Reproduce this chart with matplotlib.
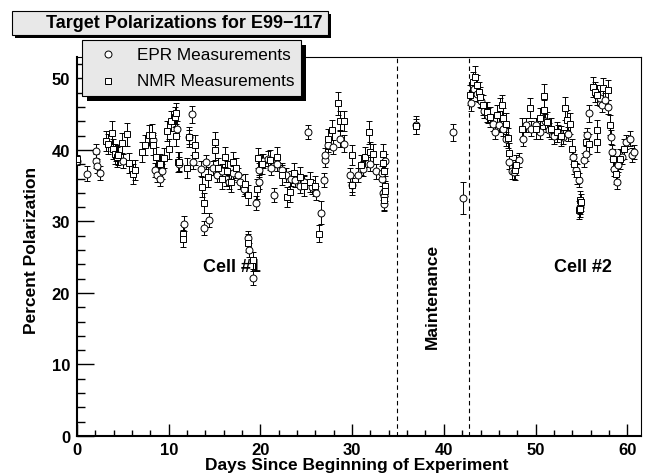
import numpy as np
import matplotlib.pyplot as plt
from matplotlib.patches import Rectangle
from matplotlib.lines import Line2D

plt.rcParams['font.family'] = ['Liberation Sans', 'DejaVu Sans']

# EPR measurements (circles)
epr_day = [0.0, 1.1, 2.1, 2.1, 2.2, 2.5, 4.3, 5.0, 8.3, 8.5, 8.75, 9.0, 9.3,
           10.9, 11.1, 11.7, 12.2, 12.5, 12.6, 13.5, 13.8, 14.1, 14.4, 14.8,
           15.3, 15.8, 16.2, 16.6, 17.0, 17.6, 17.8, 18.2, 18.7, 18.8, 19.2,
           19.5, 19.8, 19.8, 20.3, 20.8, 21.2, 21.5, 21.8, 22.3, 22.8, 23.3,
           23.8, 24.3, 24.8, 25.2, 25.6, 26.1, 26.6, 26.9, 27.0, 27.0, 27.4,
           27.95, 28.7, 29.1, 29.8, 29.95, 30.6, 31.2, 32.0, 32.6, 33.3, 33.4,
           33.5, 33.6, 33.3, 33.5,
           37.0, 41.0, 42.1,
           43.0, 43.3, 43.6, 44.0, 44.4, 44.8, 45.4, 45.6, 46.0, 46.5, 46.8,
           47.1, 47.4, 47.7, 48.2, 48.6, 49.0, 49.5, 50.1, 50.5, 51.0, 51.5,
           52.0, 52.5, 53.0, 53.5, 54.1, 54.4, 54.7, 54.9, 55.3, 55.5, 55.65,
           55.8, 57.0, 57.2, 57.6, 57.9, 58.2, 58.3, 58.6, 58.85, 59.0, 59.4,
           59.9, 60.3, 60.5, 60.7]
epr_pol = [38.5, 36.7, 39.9, 38.5, 37.8, 36.8, 39.5, 38.5, 41.4, 37.2, 36.5, 36.0, 37.0,
           43.0, 38.0, 29.7, 41.8, 45.0, 38.3, 37.4, 29.1, 38.3, 30.2, 37.5,
           36.5, 37.0, 36.0, 35.5, 36.8, 36.5, 35.5, 34.5, 27.7, 26.0, 22.1,
           32.6, 35.5, 37.2, 38.5, 38.8, 37.5, 33.7, 38.0, 37.2, 36.5, 36.0,
           35.8, 35.0, 35.5, 42.5, 34.8, 34.0, 31.2, 35.8, 38.6, 39.3, 40.7,
           40.4, 41.6, 40.9, 36.5, 35.1, 36.5, 37.4, 38.0, 37.0, 36.0, 34.0,
           32.5, 38.5, 36.8, 33.5,
           43.5, 42.5, 33.3,
           46.5, 48.5, 47.8, 46.8, 45.5, 44.8, 43.7, 42.5, 43.5, 43.0, 41.5,
           38.3, 37.0, 36.9, 38.6, 41.5, 43.5, 43.0, 43.5, 42.5, 44.0, 42.8,
           41.9, 42.5, 41.8, 42.2, 39.0, 37.2, 35.8, 32.0, 38.6, 39.5, 42.1,
           45.1, 47.2, 46.3, 47.0, 46.0, 41.8, 39.7, 37.4, 35.5, 37.9, 39.0,
           41.1, 41.6, 39.3, 39.7]
epr_err = [0.6, 1.0, 1.0, 1.0, 1.0, 1.0, 1.0, 1.0, 1.0, 1.0, 1.0, 1.0, 1.0,
           1.0, 1.0, 1.0, 1.0, 1.2, 1.0, 1.0, 1.0, 1.0, 1.0, 1.0,
           1.0, 1.0, 1.0, 1.0, 1.0, 1.0, 1.0, 1.0, 1.0, 1.0, 1.0,
           1.0, 1.0, 1.0, 1.0, 1.0, 1.0, 1.0, 1.0, 1.0, 1.0, 1.0,
           1.0, 1.0, 1.0, 1.0, 1.0, 1.0, 1.6, 1.0, 1.0, 1.0, 1.0,
           1.0, 1.2, 1.2, 1.0, 1.0, 1.0, 1.0, 1.0, 1.0, 1.0, 1.0,
           1.0, 1.0, 1.0, 1.0,
           1.3, 1.2, 2.2,
           1.0, 1.0, 1.0, 1.0, 1.0, 1.0, 1.0, 1.0, 1.0, 1.0, 1.0,
           1.0, 1.0, 1.0, 1.0, 1.0, 1.0, 1.0, 1.0, 1.0, 1.0, 1.0,
           1.0, 1.0, 1.0, 1.0, 1.0, 1.0, 1.0, 1.0, 1.0, 1.0, 1.0,
           1.2, 1.0, 1.0, 1.0, 1.0, 1.0, 1.0, 1.0, 1.0, 1.0, 1.0,
           1.0, 1.0, 1.0, 1.0]

# NMR measurements (squares)
nmr_day = [0.0, 3.16, 3.4, 3.78, 3.96, 4.14, 4.33, 4.5, 4.87, 5.5, 5.7, 6.07,
           6.3, 7.05, 7.4, 7.8, 8.15, 8.3, 8.6, 9.05, 9.5, 9.85, 10.07, 10.3,
           10.7, 10.75, 10.8, 11.05, 11.15, 11.6, 11.6, 12.0, 12.25, 12.9,
           12.9, 13.6, 13.9, 14.3, 15.05, 15.05, 15.4, 15.8, 16.1, 16.4, 16.8,
           17.0, 17.3, 18.3, 18.7, 18.6, 19.2, 19.6, 19.7, 20.2, 21.0, 21.8,
           22.3, 22.9, 23.2, 23.7, 24.3, 24.8, 25.4, 26.0, 26.4, 27.4, 27.8,
           28.5, 28.7, 29.1, 29.95, 30.0, 31.0, 31.4, 31.8, 31.95, 32.3, 33.4,
           33.5, 33.6, 33.5, 33.4, 33.6,
           37.0,
           42.9, 43.2, 43.4, 43.6, 43.8, 43.95, 44.3, 44.7, 45.0, 45.8, 46.1,
           46.3, 46.5, 46.8, 47.0, 47.1, 47.8, 47.9, 48.5, 49.4, 50.1, 50.5,
           50.9, 50.9, 51.2, 51.7, 52.3, 52.8, 53.2, 53.4, 53.8, 54.0, 54.2,
           54.5, 54.7, 54.8, 54.85, 55.0, 55.5, 55.8, 56.3, 56.5, 56.7, 56.7,
           56.7, 57.4, 57.9, 58.1, 58.5, 58.8, 59.2, 59.6]
nmr_pol = [38.7, 41.3, 40.9, 42.4, 40.2, 39.5, 39.0, 39.3, 41.0, 42.2, 38.2, 36.7,
           37.2, 39.7, 40.7, 42.1, 42.1, 40.7, 39.0, 38.1, 38.9, 42.7, 40.2, 44.1,
           44.6, 45.1, 42.0, 38.3, 38.3, 28.3, 27.6, 37.5, 41.8, 40.7,
           39.3, 34.8, 32.6, 36.2, 41.1, 40.0, 37.5, 36.0, 39.0, 37.0, 35.5,
           38.3, 37.5, 35.2, 33.7, 27.0, 24.6, 34.6, 38.9, 38.0, 38.6, 39.0,
           36.5, 33.4, 34.1, 36.8, 36.2, 35.0, 35.5, 35.0, 28.3, 41.6, 42.8,
           46.5, 44.0, 44.0, 39.3, 35.1, 37.9, 39.0, 42.5, 39.7, 39.5, 39.5,
           37.0, 35.0, 33.0, 38.2, 34.2,
           43.3,
           47.7, 49.5, 50.2, 49.1, 48.1, 47.4, 46.3, 45.3, 44.6, 44.9, 45.8,
           46.3, 44.4, 43.7, 41.7, 39.6, 37.2, 37.9, 43.0, 45.9, 43.0, 44.4,
           47.6, 45.6, 43.9, 43.0, 42.5, 42.0, 45.8, 44.2, 43.7, 40.2, 38.1,
           36.7, 31.6, 33.0, 31.8, 32.7, 41.1, 40.9, 48.8, 48.1, 47.7, 42.8,
           41.1, 48.6, 48.4, 43.5, 38.8, 36.7, 38.8, 40.2]
nmr_err = [0.6, 1.4, 1.4, 1.6, 1.4, 1.4, 1.4, 1.4, 1.4, 1.6, 1.4, 1.4,
           1.4, 1.4, 1.4, 1.4, 1.6, 1.4, 1.4, 1.4, 1.4, 1.4, 1.4, 1.4,
           1.4, 1.4, 1.4, 1.4, 1.4, 1.2, 1.2, 1.4, 1.4, 1.4,
           1.4, 1.4, 1.4, 1.4, 1.4, 1.4, 1.4, 1.4, 1.4, 1.4, 1.4,
           1.4, 1.4, 1.4, 1.4, 1.2, 1.2, 1.4, 1.4, 1.4, 1.4, 1.4,
           1.4, 1.4, 1.4, 1.4, 1.4, 1.4, 1.4, 1.4, 1.2, 1.4, 1.4,
           1.6, 1.4, 1.4, 1.4, 1.4, 1.4, 1.4, 1.6, 1.4, 1.4, 1.4,
           1.4, 1.4, 1.4, 1.4, 1.4,
           1.0,
           1.4, 1.4, 1.6, 1.4, 1.4, 1.4, 1.4, 1.4, 1.4, 1.4, 1.4,
           1.4, 1.4, 1.4, 1.4, 1.4, 1.4, 1.4, 1.4, 1.4, 1.4, 1.4,
           1.6, 1.4, 1.4, 1.4, 1.4, 1.4, 1.6, 1.4, 1.4, 1.4, 1.4,
           1.4, 1.2, 1.2, 1.2, 1.2, 1.4, 1.4, 1.4, 1.4, 1.4, 1.4,
           1.4, 1.4, 1.4, 1.4, 1.4, 1.4, 1.4, 1.4]

maint_start = 34.9
maint_end = 42.7

W, H = 647, 477
fig = plt.figure(figsize=(W / 100, H / 100), dpi=100)

def fx(px):
    return px / W

def fy(py):
    return 1 - py / H

ax = fig.add_axes([fx(77), fy(437), (641 - 77) / W, (437 - 58) / H])

ax.errorbar(epr_day, epr_pol, yerr=epr_err, fmt='o', ms=5, mfc='white', mec='black',
            mew=0.7, ecolor='black', elinewidth=0.7, capsize=2.2, capthick=0.7, zorder=3)
ax.errorbar(nmr_day, nmr_pol, yerr=nmr_err, fmt='s', ms=5, mfc='white', mec='black',
            mew=0.7, ecolor='black', elinewidth=0.7, capsize=2.2, capthick=0.7, zorder=3)

ax.axvline(maint_start, color='black', lw=0.8, ls=(0, (4, 3)))
ax.axvline(maint_end, color='black', lw=0.8, ls=(0, (4, 3)))

ax.text(16.9, 23.7, 'Cell #1', ha='center', va='center', fontsize=13, weight='bold')
ax.text(55.2, 23.7, 'Cell #2', ha='center', va='center', fontsize=13, weight='bold')
ax.text(38.7, 19.6, 'Maintenance', ha='center', va='center', rotation=90,
        fontsize=12.5, weight='bold')

ax.set_xlim(0, 61.5)
ax.set_ylim(0, 53)
ax.set_xticks(np.arange(0, 61, 10))
ax.set_xticks(np.arange(0, 62, 2), minor=True)
ax.set_yticks(np.arange(0, 51, 10))
ax.set_yticks(np.arange(0, 54, 2), minor=True)
ax.xaxis.set_tick_params(which='major', direction='in', length=9, width=1, pad=4, labelsize=12)
ax.xaxis.set_tick_params(which='minor', direction='in', length=4.5, width=1)
ax.yaxis.set_tick_params(which='major', direction='in', length=12, width=1, pad=5, labelsize=12)
ax.yaxis.set_tick_params(which='minor', direction='in', length=6, width=1)
for lab in ax.get_xticklabels() + ax.get_yticklabels():
    lab.set_fontweight('bold')
ax.spines['left'].set_linewidth(1.5)
ax.spines['bottom'].set_linewidth(1.5)
ax.spines['top'].set_linewidth(0.8)
ax.spines['right'].set_linewidth(0.8)

fig.text(fx(357), fy(466), 'Days Since Beginning of Experiment', ha='center', va='center',
         fontsize=12.5, weight='bold')
fig.text(fx(32), fy(250), 'Percent Polarization', ha='center', va='center', rotation=90,
         fontsize=12.5, weight='bold')

# title box with shadow
def shadow_box(x0, y0, x1, y1, off):
    fig.patches.append(Rectangle((fx(x0 + off), fy(y1 + off)), (x1 - x0) / W, (y1 - y0) / H,
                                 transform=fig.transFigure, facecolor='black',
                                 edgecolor='black', lw=0, zorder=5))
    fig.patches.append(Rectangle((fx(x0), fy(y1)), (x1 - x0) / W, (y1 - y0) / H,
                                 transform=fig.transFigure, facecolor='#e8e8e8',
                                 edgecolor='black', lw=0.8, zorder=6))

shadow_box(12, 12, 328, 36, 3)
fig.text(fx(184), fy(24), 'Target Polarizations for E99\u2212117', ha='center', va='center',
         fontsize=13, weight='bold', zorder=7)

shadow_box(82, 41, 301, 97, 5)
fig.lines.append(Line2D([fx(108)], [fy(55)], transform=fig.transFigure, marker='o', ms=5,
                        mfc='white', mec='black', mew=0.7, zorder=7))
fig.lines.append(Line2D([fx(108)], [fy(82)], transform=fig.transFigure, marker='s', ms=5,
                        mfc='white', mec='black', mew=0.7, zorder=7))
fig.text(fx(137), fy(55), 'EPR Measurements', ha='left', va='center', fontsize=12.3, zorder=7)
fig.text(fx(137), fy(82), 'NMR Measurements', ha='left', va='center', fontsize=12.3, zorder=7)

fig.savefig('out.png', dpi=100)
